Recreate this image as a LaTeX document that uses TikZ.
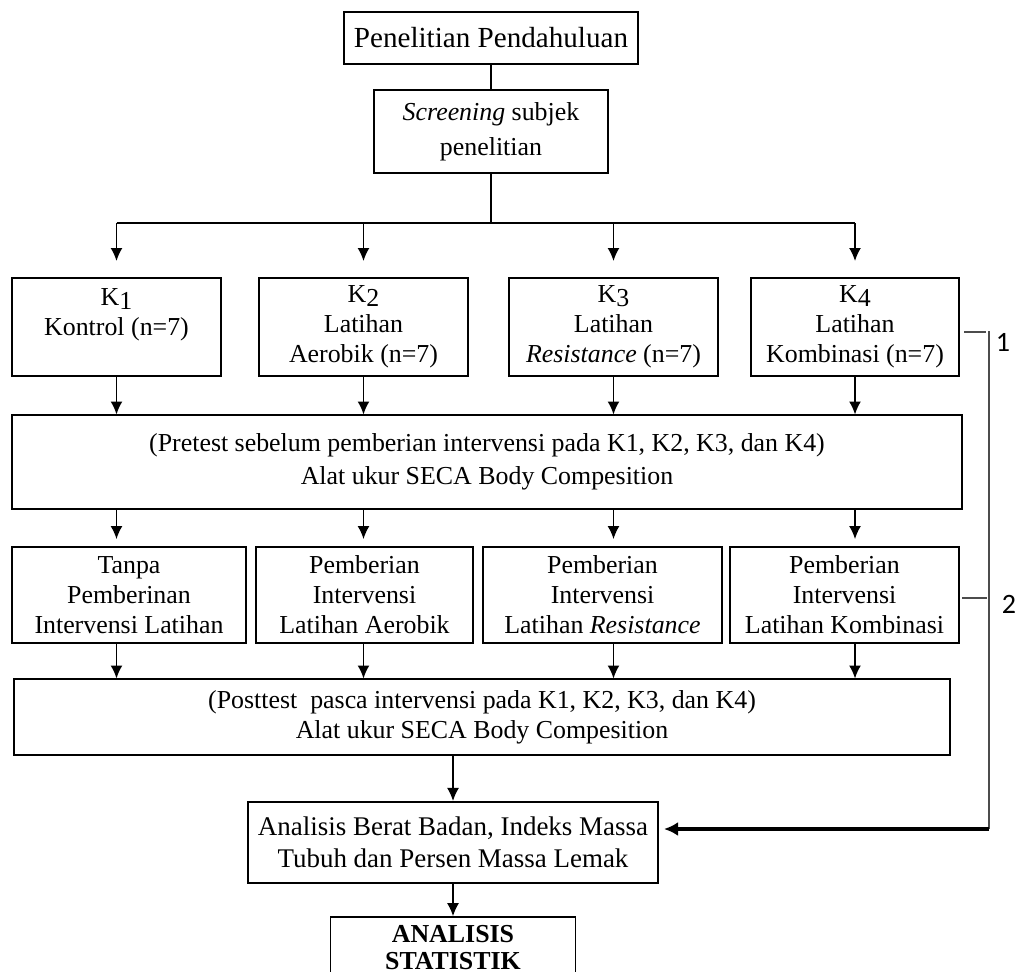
\documentclass[tikz,border=0pt]{standalone}
\usepackage{fontspec}
\setmainfont{Liberation Serif}
\newfontfamily\numfont{Carlito}
\usetikzlibrary{arrows.meta}
\usetikzlibrary{calc}
\newcommand{\px}{0.0163cm} % one pixel of the sketch
\newcommand{\kn}[1]{K\raisebox{-0.3ex}{#1}} % group label K1..K4

\begin{document}
\begin{tikzpicture}[x=\px, y=-\px,
	every node/.style={font=\fontsize{12}{13.9}\selectfont, align=center, inner sep=0pt},
	thinbox/.style={draw, line width=0.5pt},
	grpbox/.style={draw, line width=1pt, minimum height=98*\px},
	arr/.style={line width=0.6pt, -{Latex[length=6pt, width=5.5pt]}},
	brk/.style={line width=0.6pt, black!70}]
	% frame 1018 x 972
	\useasboundingbox (0,0) rectangle (1018,972);
	\clip (0,0) rectangle (1018,972);
	
	\node[thinbox, minimum width=294*\px, minimum height=52*\px, font=\fontsize{13.5}{15}\selectfont] (pendahuluan) at (491,38) {Penelitian Pendahuluan};
	\node[thinbox, minimum width=234*\px, minimum height=83*\px, font=\fontsize{12}{16.2}\selectfont] (screening) at (491,131.5) {\textit{Screening} subjek\\penelitian};
	\draw[line width=0.5pt] (pendahuluan) -- (screening);
	
	% groups
	\node[grpbox, minimum width=209*\px] (k1) at (116.5,327) {\kn{1}\\Kontrol (n=7)\\\mbox{}};
	\node[grpbox, minimum width=209*\px] (k2) at (363.5,327) {\kn{2}\\Latihan\\Aerobik (n=7)};
	\node[grpbox, minimum width=209*\px] (k3) at (613.5,327) {\kn{3}\\Latihan\\\textit{Resistance} (n=7)};
	\node[grpbox, minimum width=208*\px] (k4) at (855,327) {\kn{4}\\Latihan\\Kombinasi (n=7)};
	
	\coordinate (split) at (491,223);
	\draw[line width=0.5pt] (screening) -- (split);
	\draw[line width=0.5pt] (k1 |- split) -- (k4 |- split);
	
	% pretest
	\node[thinbox, minimum width=950*\px, minimum height=94*\px, font=\fontsize{12}{15.3}\selectfont] (pretest) at (487,462) {(Pretest sebelum pemberian intervensi pada K1, K2, K3, dan K4)\\Alat ukur SECA Body Compesition};
	
	% interventions
	\node[grpbox, minimum width=234*\px, minimum height=96*\px] (t1) at (129,595) {Tanpa\\Pemberinan\\Intervensi Latihan};
	\node[grpbox, minimum width=217*\px, minimum height=96*\px] (t2) at (364.5,595) {Pemberian\\Intervensi\\Latihan Aerobik};
	\node[grpbox, minimum width=239*\px, minimum height=96*\px] (t3) at (602.5,595) {Pemberian\\Intervensi\\Latihan \textit{Resistance}};
	\node[grpbox, minimum width=229*\px, minimum height=96*\px] (t4) at (844.5,595) {Pemberian\\Intervensi\\Latihan Kombinasi};
	
	% posttest
	\node[thinbox, minimum width=936*\px, minimum height=76*\px] (posttest) at (482,717) {(Posttest\ \ pasca intervensi pada K1, K2, K3, dan K4)\\Alat ukur SECA Body Compesition};
	
	\foreach \i in {1,...,4}
	{
		\draw[arr, shorten >=7.4pt] (k\i |- split) -- (k\i.north);
		\draw[arr] (k\i.south) -- (k\i |- pretest.north);
		\draw[arr, shorten >=3.2pt] (k\i |- pretest.south) -- (k\i |- t\i.north);
		\draw[arr] (k\i |- t\i.south) -- (k\i |- posttest.north);
	}
	
	% analysis
	\node[draw, line width=1pt, minimum width=410*\px, minimum height=81*\px, font=\fontsize{12.5}{14.8}\selectfont] (analisis) at (453,842.5) {Analisis Berat Badan, Indeks Massa\\Tubuh dan Persen Massa Lemak};
	\node[draw, line width=0.8pt, minimum width=245*\px, minimum height=70*\px, font=\bfseries\fontsize{12}{12.5}\selectfont] (statistik) at (453,952) {ANALISIS\\STATISTIK\\[-8pt]\mbox{}};
	\draw[arr] (posttest.south -| analisis) -- (analisis);
	\draw[arr] (analisis) -- (statistik);
	
	% bracket 1 and 2
	\coordinate (top1) at (989,331);
	\coordinate (turn) at (989,829);
	\draw[brk] ($(k4.east)+(4,5)$) -- ++(22,0);
	\draw[brk] ($(t4.east)+(2,3)$) -- ++(25,0);
	\draw[brk] (top1) -- (turn);
	\draw[line width=1.5pt, shorten >=2.3pt, -{Latex[length=6.5pt, width=6.5pt]}] (turn) -- (analisis.east |- turn);
	\node[font=\numfont\fontsize{13}{15}\selectfont] (lab1) at (1003,342) {1};
	\node[font=\numfont\fontsize{13}{15}\selectfont] (lab2) at (1009,604) {2};
	
\end{tikzpicture}
\end{document}
